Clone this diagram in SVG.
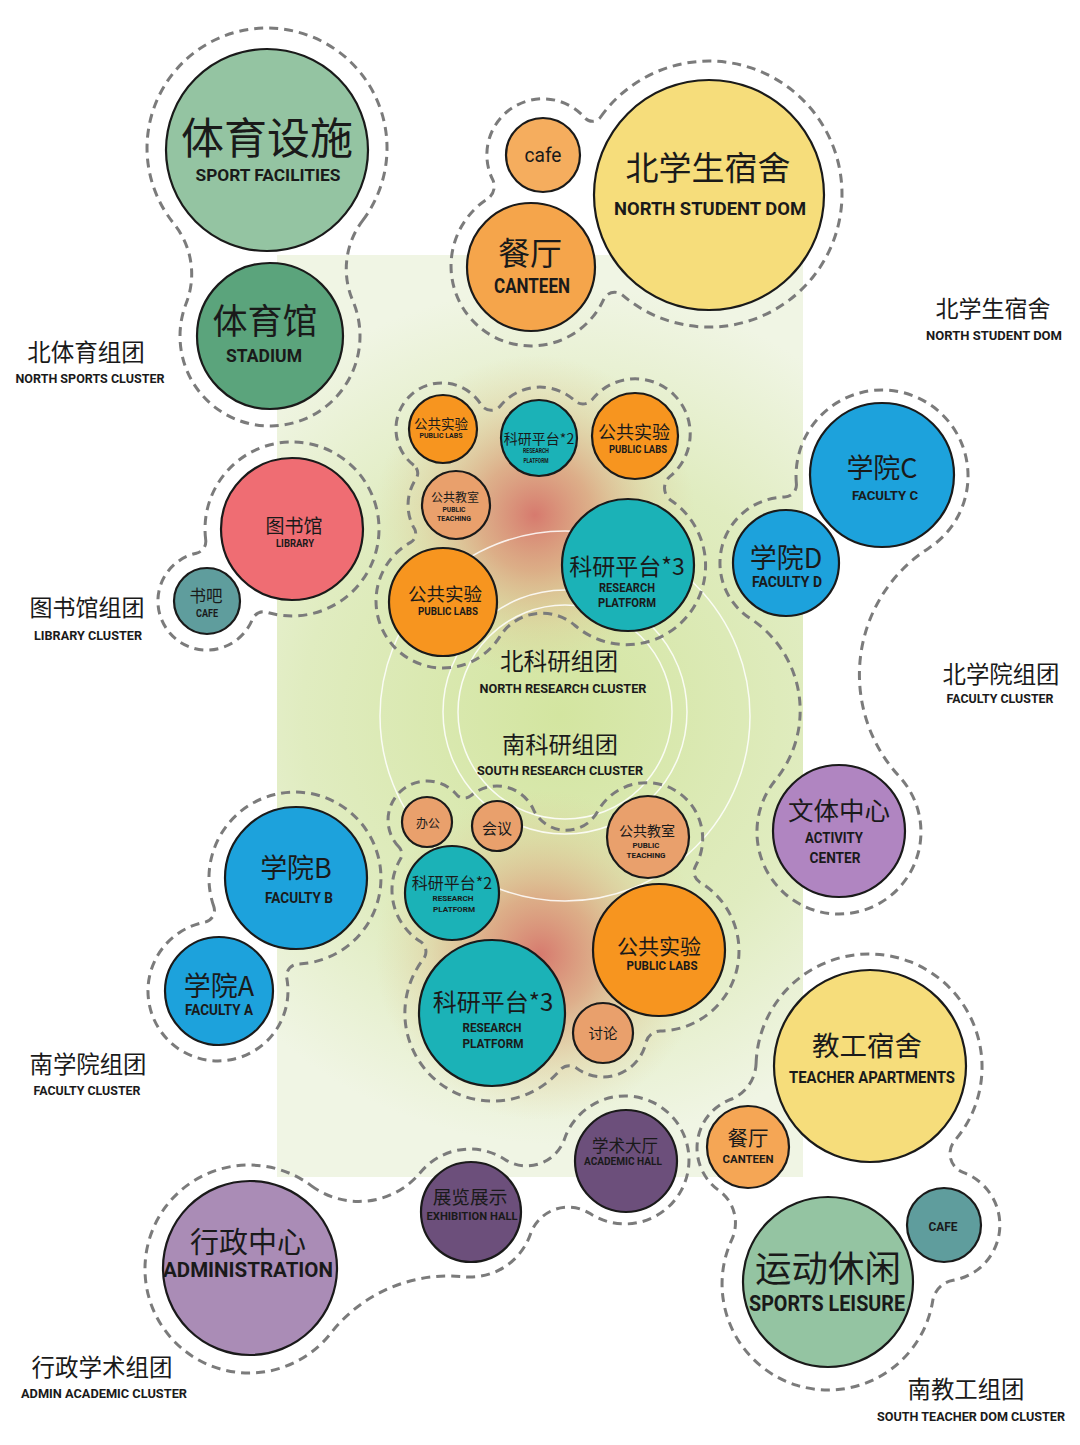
<svg xmlns="http://www.w3.org/2000/svg" width="1080" height="1445" viewBox="0 0 1080 1445">
<defs>
<radialGradient id="bg" cx="560" cy="715" r="430" gradientUnits="userSpaceOnUse">
<stop offset="0" stop-color="#d3e5a0"/>
<stop offset="0.6" stop-color="#e0ecc0"/>
<stop offset="1" stop-color="#f0f5e4"/>
</radialGradient>
<radialGradient id="glow">
<stop offset="0" stop-color="#d6746a" stop-opacity="0.95"/>
<stop offset="0.35" stop-color="#dc9a78" stop-opacity="0.75"/>
<stop offset="0.7" stop-color="#dfc08e" stop-opacity="0.35"/>
<stop offset="1" stop-color="#e0d09a" stop-opacity="0"/>
</radialGradient>
<style>
.n{stroke:#1a1a1a;stroke-width:2.2}
.ring{fill:none;stroke:#ffffff;stroke-width:1.5;opacity:0.85}
.cl{fill:none;stroke:#7b7b7b;stroke-width:3;stroke-dasharray:9 6}
.cn{font-family:"Noto Sans CJK SC","Noto Sans",sans-serif;fill:#1a1a1a;text-anchor:middle}
.en{font-family:Roboto,"Liberation Sans",sans-serif;font-weight:700;fill:#1a1a1a;text-anchor:middle}
.orange{fill:#f7951f}.teal{fill:#1bb2b7}.tan{fill:#e9a06c}.blue{fill:#1da2dc}.yellow{fill:#f6dd7b}.green{fill:#94c4a2}.gray{fill:#5f9d9d}.dpurple{fill:#6c4f7b}
</style>
</defs>
<rect width="1080" height="1445" fill="#ffffff"/>
<rect x="277" y="255" width="526" height="922" fill="url(#bg)"/>
<circle cx="535" cy="515" r="160" fill="url(#glow)"/>
<circle cx="540" cy="955" r="165" fill="url(#glow)"/>
<circle class="ring" cx="565" cy="716" r="185"/>
<circle class="ring" cx="565" cy="712" r="122"/>
<circle class="ring" cx="565" cy="712" r="107"/>

<g id="clusters">
<path class="cl" d="M362.6 220.6 A120 120 0 1 0 173.8 223.6 A80 80 0 0 1 186.2 303.2 A90 90 0 1 0 352.7 300.5 A80 80 0 0 1 362.6 220.6 Z"/>
<path class="cl" d="M600.6 117 A133 133 0 1 1 622.5 295.1 A12 12 0 0 0 603.8 299.2 A80 80 0 1 1 487.4 198.9 A15 15 0 0 0 492.7 179.7 A56 56 0 0 1 584.9 117.8 A10 10 0 0 0 600.6 117 Z"/>
<path class="cl" d="M413.8 465.3 A46 46 0 1 1 481 404.6 A12 12 0 0 0 500.5 405.8 A51 51 0 0 1 574.7 400.7 A12 12 0 0 0 592.3 399.4 A55 55 0 1 1 670 476.4 A15 15 0 0 0 671.1 500.4 A79 79 0 1 1 575 625.5 A50 50 0 0 0 499.8 636.6 A67 67 0 1 1 410.6 542.4 A10 10 0 0 0 414.4 528.6 A47 47 0 0 1 416 478.8 A10 10 0 0 0 413.8 465.3 Z"/>
<path class="cl" d="M399.2 847.3 A39 39 0 1 1 456.9 794.9 A10 10 0 0 0 470.9 795.7 A40 40 0 0 1 533.3 809.3 A36 36 0 0 0 597.7 811.4 A56 56 0 1 1 695.6 865.9 A12 12 0 0 0 699.8 882.2 A80 80 0 0 1 660.3 1031 A15 15 0 0 0 645.9 1042.7 A44 44 0 0 1 576.5 1068.1 A12 12 0 0 0 560.1 1069.9 A88 88 0 0 1 423.4 959.1 A12 12 0 0 0 420.4 941.6 A61 61 0 0 1 400.4 859.1 A10 10 0 0 0 399.2 847.3 Z"/>
<path class="cl" d="M205.7 539.9 A87 87 0 1 1 267 612.3 A12 12 0 0 0 252.4 619.3 A49 49 0 1 1 196.4 553.2 A12 12 0 0 0 205.7 539.9 Z"/>
<path class="cl" d="M796.4 483.9 A86 86 0 1 1 928.4 548.4 A150 150 0 0 0 899.2 776.4 A82 82 0 1 1 775.4 780.2 A110 110 0 0 0 750.1 618.4 A66 66 0 0 1 784.7 497 A12 12 0 0 0 796.4 483.9 Z"/>
<path class="cl" d="M213.8 906.5 A86 86 0 1 1 298.2 964 A12 12 0 0 0 286.8 978.2 A70 70 0 1 1 204.8 922.2 A12 12 0 0 0 213.8 906.5 Z"/>
<path class="cl" d="M756.1 1063.4 A113 113 0 1 1 954.8 1140.6 A20 20 0 0 0 963.1 1172.4 A56 56 0 0 1 953.2 1280.2 A25 25 0 0 0 932.7 1300.9 A106 106 0 1 1 731.8 1239.6 A40 40 0 0 0 718.7 1190.3 A52 52 0 0 1 730.4 1099.5 A40 40 0 0 0 756.1 1063.4 Z"/>
<path class="cl" d="M311.1 1185.6 A80 80 0 0 0 420.6 1172.3 A64 64 0 0 1 504.9 1159.4 A40 40 0 0 0 564.5 1139 A64 64 0 1 1 590.1 1213.6 A40 40 0 0 0 530.5 1234 A64 64 0 0 1 463.6 1276.7 A150 150 0 0 0 330.8 1333.2 A104 104 0 1 1 311.1 1185.6 Z"/>
</g>

<g id="sport-facilities"><circle class="n green" cx="267" cy="150" r="101"/>
<text class="cn" x="267" y="154" font-size="43">体育设施</text>
<text class="en" x="268" y="181" font-size="16.5" textLength="145" lengthAdjust="spacingAndGlyphs">SPORT FACILITIES</text></g>
<g id="stadium"><circle class="n" fill="#5ba47c" cx="270" cy="336" r="73"/>
<text class="cn" x="265" y="334" font-size="35">体育馆</text>
<text class="en" x="264" y="362" font-size="19" textLength="76" lengthAdjust="spacingAndGlyphs">STADIUM</text></g>
<g id="cafe-north"><circle class="n" fill="#f5ad5e" cx="543" cy="155" r="37"/>
<text class="en" x="543" y="162" font-size="20" textLength="37" lengthAdjust="spacingAndGlyphs" style="font-weight:400">cafe</text></g>
<g id="canteen-north"><circle class="n" fill="#f5a54b" cx="531" cy="267" r="64"/>
<text class="cn" x="530" y="265" font-size="32">餐厅</text>
<text class="en" x="532" y="293" font-size="20" textLength="76" lengthAdjust="spacingAndGlyphs">CANTEEN</text></g>
<g id="north-student-dorm"><circle class="n yellow" cx="709" cy="195" r="115"/>
<text class="cn" x="708" y="180" font-size="33">北学生宿舍</text>
<text class="en" x="710" y="215" font-size="19" textLength="192" lengthAdjust="spacingAndGlyphs">NORTH STUDENT DOM</text></g>

<g id="n-labs-1"><circle class="n orange" cx="443" cy="429" r="34"/>
<text class="cn" x="441" y="429" font-size="13.5">公共实验</text>
<text class="en" x="441" y="437.5" font-size="7.5" textLength="43" lengthAdjust="spacingAndGlyphs">PUBLIC LABS</text></g>
<g id="n-platform-2"><circle class="n teal" cx="539" cy="438" r="38"/>
<text class="cn" x="539" y="444" font-size="14">科研平台*2</text>
<text class="en" x="536" y="453" font-size="6.5" textLength="26" lengthAdjust="spacingAndGlyphs">RESEARCH</text>
<text class="en" x="536" y="463" font-size="6.5" textLength="25" lengthAdjust="spacingAndGlyphs">PLATFORM</text></g>
<g id="n-labs-2"><circle class="n orange" cx="635" cy="436" r="43"/>
<text class="cn" x="634" y="439" font-size="18">公共实验</text>
<text class="en" x="638" y="453" font-size="10.5" textLength="58" lengthAdjust="spacingAndGlyphs">PUBLIC LABS</text></g>
<g id="n-teaching"><circle class="n tan" cx="456" cy="505" r="34"/>
<text class="cn" x="455" y="502" font-size="12">公共教室</text>
<text class="en" x="454" y="512" font-size="6.5" textLength="23" lengthAdjust="spacingAndGlyphs">PUBLIC</text>
<text class="en" x="454" y="521" font-size="6.5" textLength="34" lengthAdjust="spacingAndGlyphs">TEACHING</text></g>
<g id="n-labs-3"><circle class="n orange" cx="443" cy="602" r="54"/>
<text class="cn" x="445" y="601" font-size="18.5">公共实验</text>
<text class="en" x="448" y="615" font-size="11" textLength="60" lengthAdjust="spacingAndGlyphs">PUBLIC LABS</text></g>
<g id="n-platform-3"><circle class="n teal" cx="628" cy="565" r="66"/>
<text class="cn" x="627" y="575" font-size="23">科研平台*3</text>
<text class="en" x="627" y="592" font-size="13" textLength="56" lengthAdjust="spacingAndGlyphs">RESEARCH</text>
<text class="en" x="627" y="607" font-size="13" textLength="58" lengthAdjust="spacingAndGlyphs">PLATFORM</text></g>

<g id="library"><circle class="n" fill="#ef6d73" cx="292" cy="529" r="71"/>
<text class="cn" x="294" y="533" font-size="19">图书馆</text>
<text class="en" x="295" y="547" font-size="10" textLength="38" lengthAdjust="spacingAndGlyphs">LIBRARY</text></g>
<g id="book-cafe"><circle class="n gray" cx="207" cy="601" r="33"/>
<text class="cn" x="206" y="602" font-size="16.5">书吧</text>
<text class="en" x="207" y="617" font-size="10" textLength="22" lengthAdjust="spacingAndGlyphs">CAFE</text></g>

<g id="faculty-c"><circle class="n blue" cx="882" cy="475" r="72"/>
<text class="cn" x="882" y="478" font-size="27">学院C</text>
<text class="en" x="885" y="500" font-size="13" textLength="66" lengthAdjust="spacingAndGlyphs">FACULTY C</text></g>
<g id="faculty-d"><circle class="n blue" cx="786" cy="563" r="53"/>
<text class="cn" x="786" y="568" font-size="27">学院D</text>
<text class="en" x="787" y="587" font-size="14" textLength="70" lengthAdjust="spacingAndGlyphs">FACULTY D</text></g>
<g id="activity-center"><circle class="n" fill="#b085c1" cx="839" cy="831" r="66"/>
<text class="cn" x="839" y="820" font-size="25.5">文体中心</text>
<text class="en" x="834" y="843" font-size="14" textLength="58" lengthAdjust="spacingAndGlyphs">ACTIVITY</text>
<text class="en" x="835" y="863" font-size="14" textLength="51" lengthAdjust="spacingAndGlyphs">CENTER</text></g>

<g id="s-office"><circle class="n tan" cx="427" cy="822" r="25"/>
<text class="cn" x="428" y="828" font-size="12">办公</text></g>
<g id="s-meeting"><circle class="n tan" cx="497" cy="826" r="25"/>
<text class="cn" x="497" y="834" font-size="15">会议</text></g>
<g id="s-teaching"><circle class="n tan" cx="648" cy="837" r="41"/>
<text class="cn" x="647" y="836" font-size="14">公共教室</text>
<text class="en" x="646" y="848" font-size="7" textLength="27" lengthAdjust="spacingAndGlyphs">PUBLIC</text>
<text class="en" x="646" y="858" font-size="7" textLength="39" lengthAdjust="spacingAndGlyphs">TEACHING</text></g>
<g id="s-platform-2"><circle class="n teal" cx="452" cy="893" r="47"/>
<text class="cn" x="452" y="889" font-size="16">科研平台*2</text>
<text class="en" x="453" y="901" font-size="8" textLength="41" lengthAdjust="spacingAndGlyphs">RESEARCH</text>
<text class="en" x="454" y="912" font-size="8" textLength="42" lengthAdjust="spacingAndGlyphs">PLATFORM</text></g>
<g id="s-labs"><circle class="n orange" cx="659" cy="950" r="66"/>
<text class="cn" x="659" y="954" font-size="21">公共实验</text>
<text class="en" x="662" y="970" font-size="13" textLength="71" lengthAdjust="spacingAndGlyphs">PUBLIC LABS</text></g>
<g id="s-platform-3"><circle class="n teal" cx="492" cy="1013" r="73"/>
<text class="cn" x="493" y="1011" font-size="24">科研平台*3</text>
<text class="en" x="492" y="1032" font-size="13" textLength="59" lengthAdjust="spacingAndGlyphs">RESEARCH</text>
<text class="en" x="493" y="1048" font-size="13" textLength="61" lengthAdjust="spacingAndGlyphs">PLATFORM</text></g>
<g id="s-discussion"><circle class="n tan" cx="603" cy="1033" r="30"/>
<text class="cn" x="603" y="1039" font-size="14.5">讨论</text></g>

<g id="faculty-b"><circle class="n blue" cx="296" cy="878" r="71"/>
<text class="cn" x="296" y="878" font-size="27">学院B</text>
<text class="en" x="299" y="903" font-size="14" textLength="68" lengthAdjust="spacingAndGlyphs">FACULTY B</text></g>
<g id="faculty-a"><circle class="n blue" cx="219" cy="991" r="54"/>
<text class="cn" x="219" y="996" font-size="27">学院A</text>
<text class="en" x="219" y="1015" font-size="14" textLength="68" lengthAdjust="spacingAndGlyphs">FACULTY A</text></g>

<g id="teacher-apartments"><circle class="n yellow" cx="870" cy="1066" r="96"/>
<text class="cn" x="867" y="1056" font-size="27.5">教工宿舍</text>
<text class="en" x="872" y="1083" font-size="17" textLength="166" lengthAdjust="spacingAndGlyphs">TEACHER APARTMENTS</text></g>
<g id="canteen-south"><circle class="n" fill="#f5a655" cx="748" cy="1147" r="41"/>
<text class="cn" x="748" y="1146" font-size="20.5">餐厅</text>
<text class="en" x="748" y="1163" font-size="11" textLength="51" lengthAdjust="spacingAndGlyphs">CANTEEN</text></g>
<g id="sports-leisure"><circle class="n green" cx="828" cy="1282" r="85"/>
<text class="cn" x="828" y="1282" font-size="36.5">运动休闲</text>
<text class="en" x="827" y="1311" font-size="22" textLength="156" lengthAdjust="spacingAndGlyphs">SPORTS LEISURE</text></g>
<g id="cafe-south"><circle class="n gray" cx="944" cy="1225" r="37"/>
<text class="en" x="943" y="1231" font-size="13" textLength="29" lengthAdjust="spacingAndGlyphs">CAFE</text></g>

<g id="administration"><circle class="n" fill="#aa8cb6" cx="250" cy="1268" r="87"/>
<text class="cn" x="248" y="1253" font-size="29">行政中心</text>
<text class="en" x="248" y="1277" font-size="21" textLength="170" lengthAdjust="spacingAndGlyphs">ADMINISTRATION</text></g>
<g id="exhibition-hall"><circle class="n dpurple" cx="471" cy="1212" r="50"/>
<text class="cn" x="470" y="1204" font-size="18.7">展览展示</text>
<text class="en" x="472" y="1220" font-size="11" textLength="91" lengthAdjust="spacingAndGlyphs">EXHIBITION HALL</text></g>
<g id="academic-hall"><circle class="n dpurple" cx="626" cy="1161" r="51"/>
<text class="cn" x="625" y="1152" font-size="16.5">学术大厅</text>
<text class="en" x="623" y="1165" font-size="11" textLength="78" lengthAdjust="spacingAndGlyphs">ACADEMIC HALL</text></g>

<g id="cluster-labels">
<text class="cn" x="86" y="361" font-size="23.5">北体育组团</text>
<text class="en" x="90" y="383" font-size="13.5" textLength="149" lengthAdjust="spacingAndGlyphs">NORTH SPORTS CLUSTER</text>
<text class="cn" x="87" y="616" font-size="23">图书馆组团</text>
<text class="en" x="88" y="640" font-size="13.5" textLength="108" lengthAdjust="spacingAndGlyphs">LIBRARY CLUSTER</text>
<text class="cn" x="993" y="317" font-size="23">北学生宿舍</text>
<text class="en" x="994" y="340" font-size="13.5" textLength="136" lengthAdjust="spacingAndGlyphs">NORTH STUDENT DOM</text>
<text class="cn" x="1001" y="683" font-size="23.4">北学院组团</text>
<text class="en" x="1000" y="703" font-size="13.5" textLength="107" lengthAdjust="spacingAndGlyphs">FACULTY CLUSTER</text>
<text class="cn" x="559" y="670" font-size="23.6">北科研组团</text>
<text class="en" x="563" y="693" font-size="13.5" textLength="167" lengthAdjust="spacingAndGlyphs">NORTH RESEARCH CLUSTER</text>
<text class="cn" x="560" y="753" font-size="23.2">南科研组团</text>
<text class="en" x="560" y="775" font-size="13.5" textLength="166" lengthAdjust="spacingAndGlyphs">SOUTH RESEARCH CLUSTER</text>
<text class="cn" x="88" y="1073" font-size="23.4">南学院组团</text>
<text class="en" x="87" y="1095" font-size="13.5" textLength="107" lengthAdjust="spacingAndGlyphs">FACULTY CLUSTER</text>
<text class="cn" x="102" y="1376" font-size="23.5">行政学术组团</text>
<text class="en" x="104" y="1398" font-size="13.5" textLength="166" lengthAdjust="spacingAndGlyphs">ADMIN ACADEMIC CLUSTER</text>
<text class="cn" x="966" y="1398" font-size="23.4">南教工组团</text>
<text class="en" x="971" y="1421" font-size="13.5" textLength="188" lengthAdjust="spacingAndGlyphs">SOUTH TEACHER DOM CLUSTER</text>
</g>
</svg>
